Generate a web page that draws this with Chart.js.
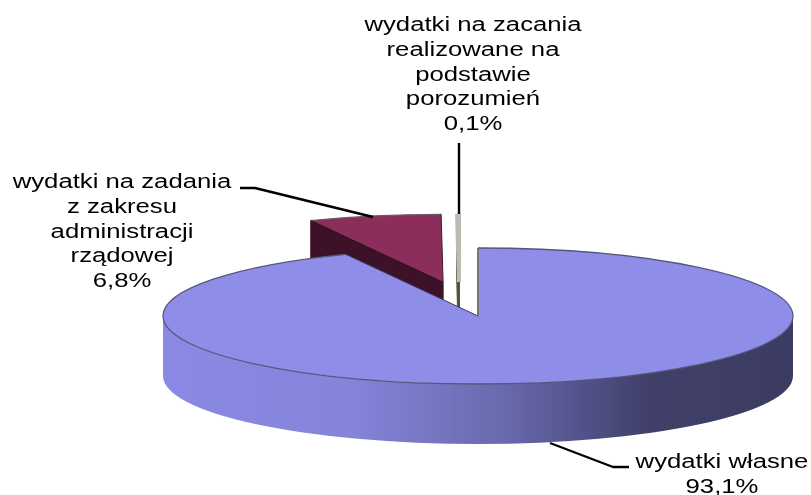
<!DOCTYPE html>
<html><head><meta charset="utf-8">
<style>html,body{margin:0;padding:0;background:#fff}canvas{display:block}</style>
<script src="https://cdn.jsdelivr.net/npm/chart.js@4"></script>
</head><body><canvas id="c" width="811" height="495"></canvas>
<script>
const categories = ["wydatki własne", "wydatki na zadania z zakresu administracji rządowej", "wydatki na zacania realizowane na podstawie porozumień"];
const values = [93.1, 6.8, 0.1];
const valueLabels = ["93,1%", "6,8%", "0,1%"];
const labelLines = [
  ["wydatki własne"],
  ["wydatki na zadania", "z zakresu", "administracji", "rządowej"],
  ["wydatki na zacania", "realizowane na", "podstawie", "porozumień"]
];
const topColors = ["#8e8ee9", "#8b2e5c", "#8a8a70"];
const wallColors = ["#3e3e66", "#3d1228", "#55553f"];
const explode = [0, 160, 157.5];

const K = 68 / 315, DEPTH = 60, TEXT_STRETCH = 1.285;
const labelAnchors = [[722, 468], [122, 188], [473, 31]];
const leaders = [
  [[629, 467], [613, 467], [550, 443]],
  [[240, 188], [255, 188], [373, 217]],
  [[459, 143], [459, 214]]
];

const pie3d = {
  id: "pie3d",
  afterDatasetsUpdate(chart) {
    const arcs = chart.getDatasetMeta(0).data;
    arcs.forEach((a, i) => {
      const mid = (a.startAngle + a.endAngle) / 2;
      a.x += Math.cos(mid) * explode[i];
      a.y += Math.sin(mid) * explode[i];
    });
    arcs[2].x -= 18.5;
  },
  beforeDatasetsDraw(chart) {
    const ctx = chart.ctx, arcs = chart.getDatasetMeta(0).data;
    const cy = arcs[0].y;
    const sy = y => cy + (y - cy) * K;
    [1, 2].forEach(i => {
      const a = arcs[i], r = a.outerRadius;
      const tipY = sy(a.y);
      const lx = a.x + Math.cos(a.startAngle) * r, ly = sy(a.y + Math.sin(a.startAngle) * r);
      ctx.fillStyle = wallColors[i];
      ctx.beginPath();
      ctx.moveTo(lx, ly); ctx.lineTo(a.x, tipY);
      ctx.lineTo(a.x, tipY + DEPTH); ctx.lineTo(lx, ly + DEPTH);
      ctx.closePath(); ctx.fill();
      ctx.strokeStyle = wallColors[i]; ctx.lineWidth = i === 2 ? 2 : 1; ctx.stroke();
    });
    const a = arcs[0], r = a.outerRadius, ry = r * K;
    const grad = ctx.createLinearGradient(a.x - r, 0, a.x + r, 0);
    grad.addColorStop(0, "#8a8ae4");
    grad.addColorStop(0.3, "#8484da");
    grad.addColorStop(0.535, "#6a6aaf");
    grad.addColorStop(0.65, "#55558f");
    grad.addColorStop(0.77, "#40406a");
    grad.addColorStop(1, "#3c3c62");
    ctx.fillStyle = grad;
    ctx.beginPath();
    ctx.ellipse(a.x, a.y, r, ry, 0, 0, Math.PI);
    ctx.ellipse(a.x, a.y + DEPTH, r, ry, 0, Math.PI, 0, true);
    ctx.closePath(); ctx.fill();
    ctx.save();
    ctx.translate(a.x, cy); ctx.scale(1, K); ctx.translate(-a.x, -cy);
  },
  afterDatasetsDraw(chart) {
    const ctx = chart.ctx, arcs = chart.getDatasetMeta(0).data;
    ctx.restore();
    const cy = arcs[0].y;
    [[0, "#56567e"], [1, "#6a5a64"]].forEach(([i, col]) => {
      const a = arcs[i], r = a.outerRadius;
      const x = a.x, y = cy + (a.y - cy) * K;
      ctx.beginPath();
      ctx.ellipse(x, y, r, r * K, 0, a.startAngle, a.endAngle);
      ctx.strokeStyle = col; ctx.lineWidth = 1.3; ctx.stroke();
      ctx.beginPath();
      ctx.moveTo(x + Math.cos(a.startAngle) * r, y + Math.sin(a.startAngle) * r * K);
      ctx.lineTo(x, y);
      ctx.strokeStyle = i === 0 ? "#777777" : "#2a0c1c"; ctx.lineWidth = i === 0 ? 2 : 1; ctx.stroke();
      ctx.beginPath();
      ctx.moveTo(x, y);
      ctx.lineTo(x + Math.cos(a.endAngle) * r, y + Math.sin(a.endAngle) * r * K);
      ctx.strokeStyle = i === 0 ? "#3a3a60" : "#3a1a2a"; ctx.lineWidth = 1; ctx.stroke();
    });
    ctx.strokeStyle = "#000"; ctx.lineWidth = 2.4; ctx.lineJoin = "round";
    leaders.forEach(pts => {
      ctx.beginPath();
      pts.forEach((p, j) => j ? ctx.lineTo(p[0], p[1]) : ctx.moveTo(p[0], p[1]));
      ctx.stroke();
    });
    ctx.fillStyle = "#000"; ctx.textAlign = "center"; ctx.textBaseline = "alphabetic";
    ctx.font = '20px "Liberation Sans", Arial, sans-serif';
    labelLines.forEach((lines, i) => {
      const [x, y] = labelAnchors[i];
      lines.concat(valueLabels[i]).forEach((t, j) => {
        ctx.save();
        ctx.translate(x, y + j * 24.8);
        ctx.scale(TEXT_STRETCH, 1);
        ctx.fillText(t, 0, 0);
        ctx.restore();
      });
    });
  }
};

new Chart(document.getElementById("c"), {
  type: "pie",
  data: {
    labels: categories,
    datasets: [{
      data: values,
      backgroundColor: topColors,
      borderColor: ["#00000000", "#00000000", "#bcbcb4"],
      borderWidth: [0, 0, 4],
      clip: false
    }]
  },
  options: {
    responsive: false,
    animation: false,
    radius: 315,
    layout: {padding: {left: 145, top: 137}},
    plugins: {legend: {display: false}, tooltip: {enabled: false}, title: {display: false}},
    events: []
  },
  plugins: [pie3d]
});
</script></body></html>
